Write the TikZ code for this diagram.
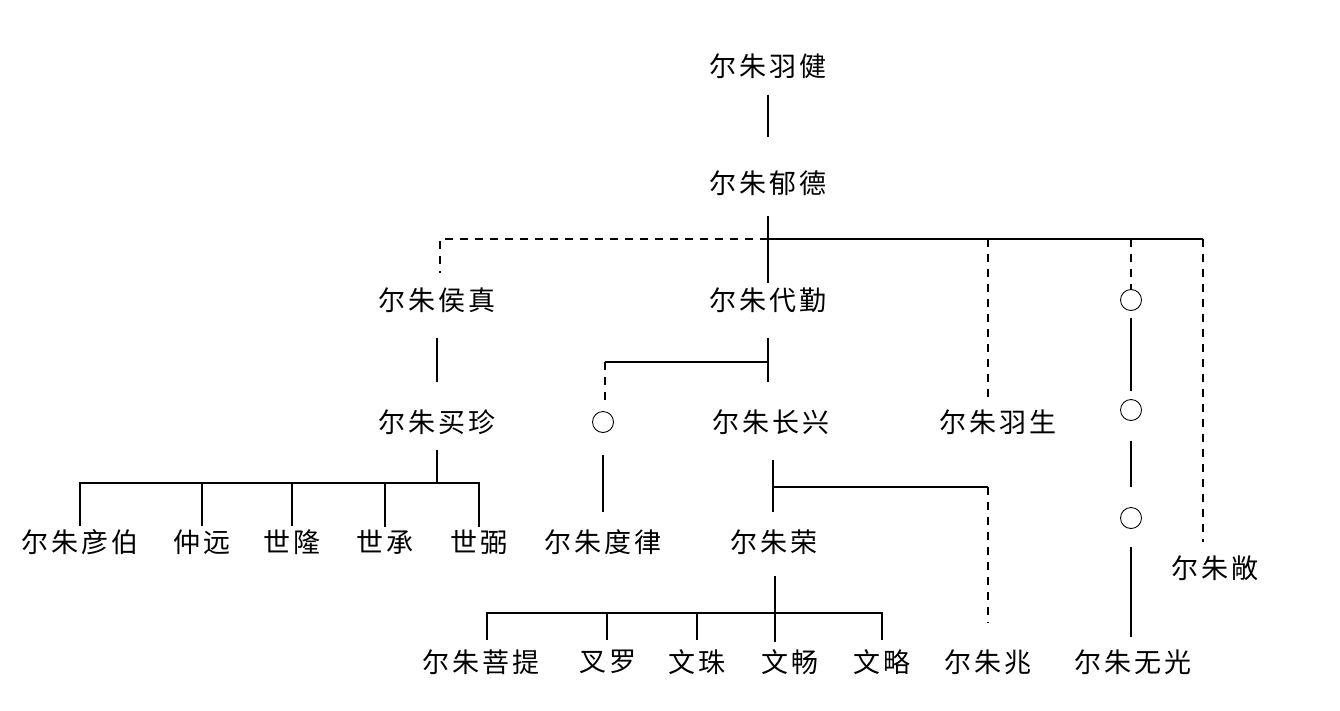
\documentclass[tikz,border=0pt]{standalone}
\usepackage{fontspec}
\setmainfont{Noto Sans CJK SC}[LetterSpace=12]
\usetikzlibrary{positioning}
\begin{document}
\begin{tikzpicture}[x=1pt,y=-1pt,
	person/.style={font=\fontsize{27}{30}\selectfont,inner sep=0pt},
	ring/.style={circle,draw,line width=0.9pt,minimum size=21pt,inner sep=0pt},
	kin/.style={line width=2.1pt},
	unsure/.style={line width=1.8pt,dash pattern=on 8pt off 7pt}]

	\useasboundingbox (0,0) rectangle (1340,710);

	% generations 1 to 3
	\node[person] (yujian) at (768,66) {尔朱羽健};
	\node[person] (yude) at (768,183) {尔朱郁德};
	\node[person] (houzhen) at (437,300) {尔朱侯真};
	\node[person] (daiqin) at (768,300) {尔朱代勤};
	\node[ring] (anonA) at (1131,300) {};
	\node[person] (maizhen) at (437,422) {尔朱买珍};
	\node[ring] (anonD) at (603,422) {};
	\node[person] (changxing) at (771,422) {尔朱长兴};
	\node[person] (yusheng) at (998,422) {尔朱羽生};
	\node[ring] (anonB) at (1131,410) {};
	\node[ring] (anonC) at (1131,518) {};

	% row of 542
	\node[person] (yanbo) at (80,542) {尔朱彦伯};
	\node[person] (zhongyuan) at (202,542) {仲远};
	\node[person] (shilong) at (292,542) {世隆};
	\node[person] (shicheng) at (385,542) {世承};
	\node[person] (shibi) at (479,542) {世弼};
	\node[person] (dulv) at (603,542) {尔朱度律};
	\node[person] (rong) at (774,542) {尔朱荣};
	\node[person] (chang) at (1215,568) {尔朱敞};

	% row of 662
	\node[person] (puti) at (481,662) {尔朱菩提};
	\node[person] (chaluo) at (608,662) {叉罗};
	\node[person] (wenzhu) at (697,662) {文珠};
	\node[person] (wenchang) at (790,662) {文畅};
	\node[person] (wenlue) at (882,662) {文略};
	\node[person] (zhao) at (988,662) {尔朱兆};
	\node[person] (wuguang) at (1133,662) {尔朱无光};

	% junctions and ticks
	\coordinate (yudeJ) at (768,239);
	\coordinate (houzhenT) at (440,239);
	\coordinate (yushengT) at (988,239);
	\coordinate (changT) at (1203,239);
	\coordinate (daiqinJ) at (768,362);
	\coordinate (dulvT) at (605,362);
	\coordinate (maizhenJ) at (437,483);
	\coordinate (changxingJ) at (773,487);
	\coordinate (zhaoT) at (988,487);
	\coordinate (rongJ) at (775,613);

	\draw[kin] ([yshift=-16pt]yujian.south) -- ([yshift=33pt]yude.north);
	\draw[kin] ([yshift=-20pt]yude.south) -- ([yshift=4pt]daiqin.north);
	\draw[unsure,shorten >=14pt] (yudeJ) -- (houzhenT) -- (houzhenT |- houzhen.north);
	\draw[kin] (yudeJ) -- (changT);
	\draw[unsure,shorten >=7pt] (yushengT) -- (yushengT |- yusheng.north);
	\draw[unsure] (anonA.north |- yudeJ) -- (anonA.north);
	\draw[unsure,shorten >=13pt] (changT) -- (changT |- chang.north);
	\draw[kin] (anonA) edge[shorten <=7pt,shorten >=8pt] (anonB)
		(anonB) edge[shorten <=20pt,shorten >=20pt] (anonC);
	\draw[kin,shorten <=18pt,shorten >=12pt] (anonC.south) -- (anonC.south |- wuguang.north);

	% line of Houzhen
	\draw[kin,shorten <=25pt,shorten >=27pt] (houzhen.south) -- (houzhen.south |- maizhen.north);
	\draw[kin,shorten <=15pt] (maizhen.south) -- (maizhenJ);
	\draw[kin,shorten >=3pt] (maizhenJ) -| (shibi.north);
	\draw[kin,shorten >=3pt] (maizhenJ) -| (yanbo.north);
	\foreach \kid in {zhongyuan,shilong,shicheng}
		\draw[kin] (\kid.north |- maizhenJ) -- ([yshift=3pt]\kid.north);

	% line of Daiqin
	\draw[kin,shorten <=25pt,shorten >=27pt] (daiqin.south) -- (daiqin.south |- changxing.north);
	\draw[kin] (daiqinJ) -- (dulvT);
	\draw[unsure,shorten >=5pt] (dulvT) -- (dulvT |- anonD.north);
	\draw[kin,shorten <=22pt,shorten >=17pt] (anonD.south) -- (anonD.south |- dulv.north);
	\draw[kin,shorten <=25pt,shorten >=17pt] (changxingJ |- changxing.south) -- (changxingJ |- rong.north);
	\draw[kin] (changxingJ) -- (zhaoT);
	\draw[unsure,shorten >=27pt] (zhaoT) -- (zhaoT |- zhao.north);

	% sons of Rong
	\draw[kin,shorten <=21pt,shorten >=7pt] (rongJ |- rong.south) -- (rongJ |- wenchang.north);
	\draw[kin] (rongJ) -- (487,613) -- (487,640);
	\draw[kin] (rongJ) -- (882,613) -- (882,640);
	\foreach \x in {607,697}
		\draw[kin] (\x,613) -- (\x,640);

\end{tikzpicture}
\end{document}
